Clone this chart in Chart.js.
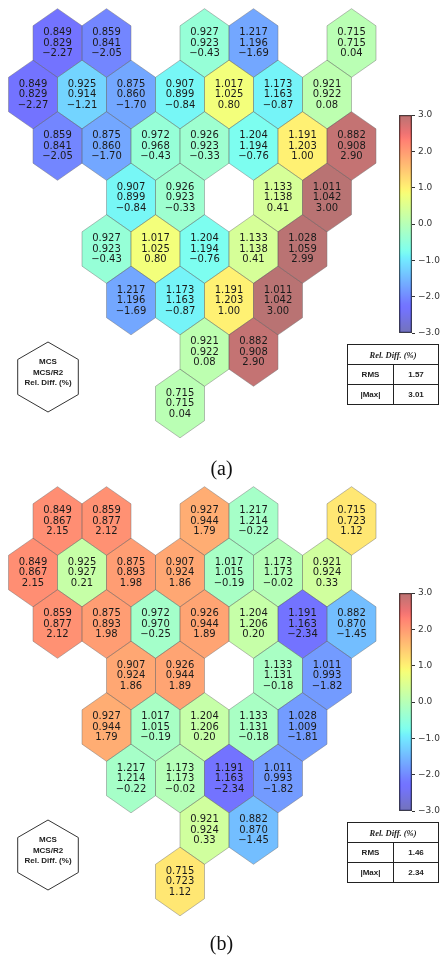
<!DOCTYPE html>
<html lang="en">
<head>
<meta charset="UTF-8" />
<title>Hex maps</title>
<script src="https://cdn.jsdelivr.net/npm/chart.js"></script>
<style>
  body { margin: 0; background: #fff; }
  #page { position: relative; width: 443px; height: 956px; overflow: hidden; }
  .panel { position: absolute; left: 0; width: 443px; height: 478px; }
  .map { position: absolute; left: 0; top: 0; }
  .cbar { position: absolute; left: 393px; top: 105px; }
  .key { position: absolute; left: 13px; top: 341px; width: 70px; height: 72px; }
  .key svg { position: absolute; left: 0; top: 0; }
  .key div { position: absolute; left: 0; top: 16px; width: 70px; text-align: center;
    font: bold 8px "Liberation Sans", sans-serif; line-height: 10.5px; color: #222; }
  table.stats { position: absolute; left: 347px; top: 344px; width: 92px; height: 58px;
    border-collapse: collapse; border: 1.5px solid #222; font: bold 8px "Liberation Sans", sans-serif; color: #222; }
  table.stats td { border: 1.2px solid #222; text-align: center; padding: 0; height: 19px; }
  table.stats td.h { font: italic bold 8.5px "Liberation Serif", serif; }
  .cap { position: absolute; left: 0; width: 443px; text-align: center;
    font: 20px "Liberation Serif", serif; line-height: 20px; color: #111; }
</style>
</head>
<body>
<div id="page">
  <div class="panel" id="pa" style="top:0"></div>
  <div class="panel" id="pb" style="top:478px"></div>
  <div class="cap" style="top:458px">(a)</div>
  <div class="cap" style="top:933px">(b)</div>
</div>
<script>
// hex grid positions (column in half-widths, row)
const cols = [1, 3, 7, 9, 13,  0, 2, 4, 6, 8, 10, 12,  1, 3, 5, 7, 9, 11, 13,  4, 6, 10, 12,  3, 5, 7, 9, 11,  4, 6, 8, 10,  7, 9,  6];
const rows = [0, 0, 0, 0, 0,   1, 1, 1, 1, 1, 1, 1,    2, 2, 2, 2, 2, 2, 2,    3, 3, 3, 3,     4, 4, 4, 4, 4,  5, 5, 5, 5,   6, 6,  7];

const mcs = [0.849, 0.859, 0.927, 1.217, 0.715,
  0.849, 0.925, 0.875, 0.907, 1.017, 1.173, 0.921,
  0.859, 0.875, 0.972, 0.926, 1.204, 1.191, 0.882,
  0.907, 0.926, 1.133, 1.011,
  0.927, 1.017, 1.204, 1.133, 1.028,
  1.217, 1.173, 1.191, 1.011,
  0.921, 0.882,
  0.715];

const r2A = [0.829, 0.841, 0.923, 1.196, 0.715,
  0.829, 0.914, 0.860, 0.899, 1.025, 1.163, 0.922,
  0.841, 0.860, 0.968, 0.923, 1.194, 1.203, 0.908,
  0.899, 0.923, 1.138, 1.042,
  0.923, 1.025, 1.194, 1.138, 1.059,
  1.196, 1.163, 1.203, 1.042,
  0.922, 0.908,
  0.715];
const diffA = [-2.27, -2.05, -0.43, -1.69, 0.04,
  -2.27, -1.21, -1.70, -0.84, 0.80, -0.87, 0.08,
  -2.05, -1.70, -0.43, -0.33, -0.76, 1.00, 2.90,
  -0.84, -0.33, 0.41, 3.00,
  -0.43, 0.80, -0.76, 0.41, 2.99,
  -1.69, -0.87, 1.00, 3.00,
  0.08, 2.90,
  0.04];

const r2B = [0.867, 0.877, 0.944, 1.214, 0.723,
  0.867, 0.927, 0.893, 0.924, 1.015, 1.173, 0.924,
  0.877, 0.893, 0.970, 0.944, 1.206, 1.163, 0.870,
  0.924, 0.944, 1.131, 0.993,
  0.944, 1.015, 1.206, 1.131, 1.009,
  1.214, 1.173, 1.163, 0.993,
  0.924, 0.870,
  0.723];
const diffB = [2.15, 2.12, 1.79, -0.22, 1.12,
  2.15, 0.21, 1.98, 1.86, -0.19, -0.02, 0.33,
  2.12, 1.98, -0.25, 1.89, 0.20, -2.34, -1.45,
  1.86, 1.89, -0.18, -1.82,
  1.79, -0.19, 0.20, -0.18, -1.81,
  -0.22, -0.02, -2.34, -1.82,
  0.33, -1.45,
  1.12];

const statsA = { rms: '1.57', max: '3.01' };
const statsB = { rms: '1.46', max: '2.34' };
const cbTicks = [3, 2, 1, 0, -1, -2, -3];
const keyLines = ['MCS', 'MCS/R2', 'Rel. Diff. (%)'];

// matplotlib jet
const JET = {
  r: [[0, 0], [0.35, 0], [0.66, 1], [0.89, 1], [1, 0.5]],
  g: [[0, 0], [0.125, 0], [0.375, 1], [0.64, 1], [0.91, 0], [1, 0]],
  b: [[0, 0.5], [0.11, 1], [0.34, 1], [0.65, 0], [1, 0]]
};
const ALPHA = 0.55;
function seg(pts, t) {
  for (let i = 1; i < pts.length; i++) {
    if (t <= pts[i][0]) {
      const [x0, y0] = pts[i - 1], [x1, y1] = pts[i];
      return y0 + (y1 - y0) * (t - x0) / (x1 - x0);
    }
  }
  return pts[pts.length - 1][1];
}
function jet(v, a) {
  const t = Math.min(1, Math.max(0, (v + 3) / 6));
  const c = k => Math.round(seg(JET[k], t) * 255);
  return `rgba(${c('r')},${c('g')},${c('b')},${a})`;
}
const minus = s => s.replace('-', '\u2212');

const hexPlugin = {
  id: 'hexes',
  afterDatasetsDraw(chart) {
    const ctx = chart.ctx;
    const xs = chart.scales.x, ys = chart.scales.y;
    const hw = Math.abs(xs.getPixelForValue(1) - xs.getPixelForValue(0));
    const r = Math.abs(ys.getPixelForValue(1) - ys.getPixelForValue(0)) / 1.5;
    const ds = chart.data.datasets[0];
    ctx.save();
    chart.getDatasetMeta(0).data.forEach((pt, i) => {
      const d = ds.data[i];
      const x = pt.x, y = pt.y;
      ctx.beginPath();
      ctx.moveTo(x, y - r);
      ctx.lineTo(x + hw, y - r / 2);
      ctx.lineTo(x + hw, y + r / 2);
      ctx.lineTo(x, y + r);
      ctx.lineTo(x - hw, y + r / 2);
      ctx.lineTo(x - hw, y - r / 2);
      ctx.closePath();
      ctx.fillStyle = jet(d.diff, ALPHA);
      ctx.fill();
      ctx.strokeStyle = 'rgba(110,110,110,0.45)';
      ctx.lineWidth = 1;
      ctx.stroke();
    });
    ctx.fillStyle = '#1a1a1a';
    ctx.font = '10px "DejaVu Sans", sans-serif';
    ctx.textAlign = 'center';
    ctx.textBaseline = 'middle';
    chart.getDatasetMeta(0).data.forEach((pt, i) => {
      const d = ds.data[i];
      ctx.fillText(d.mcs.toFixed(3), pt.x, pt.y - 10.5);
      ctx.fillText(d.r2.toFixed(3), pt.x, pt.y);
      ctx.fillText(minus(d.diff.toFixed(2)), pt.x, pt.y + 10.5);
    });
    ctx.restore();
  }
};

function buildPanel(el, r2, diff, stats) {
  const map = document.createElement('canvas');
  map.className = 'map'; map.width = 443; map.height = 478;
  el.appendChild(map);
  const pts = cols.map((c, i) => ({ x: c, y: rows[i], mcs: mcs[i], r2: r2[i], diff: diff[i] }));
  new Chart(map, {
    type: 'scatter',
    data: { datasets: [{ data: pts, pointRadius: 0 }] },
    options: {
      responsive: false, animation: false, events: [],
      layout: { padding: 0 },
      plugins: { legend: { display: false }, tooltip: { enabled: false } },
      scales: {
        x: { display: false, min: -33 / 24.5, max: (443 - 33) / 24.5 },
        y: { display: false, reverse: true, min: -43 / 51.5, max: (478 - 43) / 51.5 }
      }
    },
    plugins: [hexPlugin]
  });

  const cb = document.createElement('canvas');
  cb.className = 'cbar'; cb.width = 50; cb.height = 240;
  el.appendChild(cb);
  new Chart(cb, {
    type: 'bar',
    data: {
      labels: [''],
      datasets: [{
        data: [[cbTicks[cbTicks.length - 1], cbTicks[0]]],
        backgroundColor: (c) => {
          const ch = c.chart;
          if (!ch.chartArea) return 'transparent';
          const y = ch.scales.y;
          const g = ch.ctx.createLinearGradient(0, y.getPixelForValue(-3), 0, y.getPixelForValue(3));
          for (let k = 0; k <= 60; k++) g.addColorStop(k / 60, jet(-3 + k / 10, ALPHA));
          return g;
        },
        borderColor: '#444', borderWidth: 1, borderSkipped: false,
        barPercentage: 1, categoryPercentage: 1
      }]
    },
    options: {
      responsive: false, animation: false, events: [],
      layout: { padding: { left: 6, top: 10, bottom: 12, right: 0 } },
      plugins: { legend: { display: false }, tooltip: { enabled: false } },
      scales: {
        x: { display: false },
        y: {
          position: 'right', min: -3, max: 3,
          afterFit: a => { a.width = 31; },
          afterBuildTicks: a => { a.ticks = cbTicks.map(v => ({ value: v })); },
          ticks: { callback: v => minus(Number(v).toFixed(1)), color: '#333', padding: 3,
                   font: { size: 9, family: '"DejaVu Sans", sans-serif' } },
          grid: { drawOnChartArea: false, drawTicks: true, tickLength: 3, color: '#333' },
          border: { display: false }
        }
      }
    }
  });

  const key = document.createElement('div');
  key.className = 'key';
  key.innerHTML = '<svg width="70" height="72"><polygon points="35,1 65.3,18.5 65.3,53.5 35,71 4.7,53.5 4.7,18.5" fill="#fff" stroke="#333" stroke-width="1"/></svg>' +
    '<div>' + keyLines.join('<br>') + '</div>';
  el.appendChild(key);

  const tbl = document.createElement('table');
  tbl.className = 'stats';
  tbl.innerHTML = '<tr><td class="h" colspan="2">Rel. Diff. (%)</td></tr>' +
    '<tr><td style="width:45px">RMS</td><td>' + stats.rms + '</td></tr>' +
    '<tr><td>|Max|</td><td>' + stats.max + '</td></tr>';
  el.appendChild(tbl);
}

buildPanel(document.getElementById('pa'), r2A, diffA, statsA);
buildPanel(document.getElementById('pb'), r2B, diffB, statsB);
</script>
</body>
</html>
